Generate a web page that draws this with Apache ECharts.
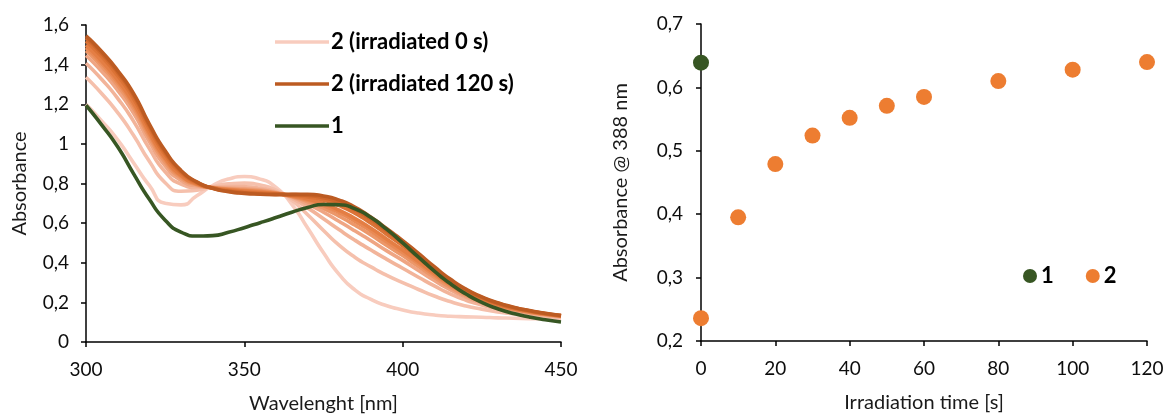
<!DOCTYPE html>
<html>
<head>
<meta charset="utf-8">
<script src="https://cdn.jsdelivr.net/npm/echarts@6/dist/echarts.min.js"></script>
<style>
html,body{margin:0;padding:0;background:#fff;}
#c{width:1167px;height:414px;}
</style>
</head>
<body>
<div id="c"></div>
<script>
// ---------- DATA ----------
const wavelengths = [300,305,310,315,320,325,330,335,340,345,350,355,360,365,370,375,380,385,390,395,400,405,410,415,420,425,430,435,440,445,450];

const spec2_0s   = [1.200,1.115,1.020,0.905,0.790,0.700,0.692,0.738,0.790,0.823,0.835,0.822,0.780,0.695,0.575,0.450,0.340,0.262,0.215,0.183,0.162,0.146,0.136,0.130,0.127,0.125,0.122,0.120,0.118,0.116,0.115];
const spec2_10s  = [1.336,1.253,1.158,1.043,0.912,0.804,0.761,0.766,0.784,0.798,0.802,0.792,0.766,0.715,0.642,0.563,0.488,0.427,0.379,0.336,0.300,0.265,0.232,0.204,0.182,0.166,0.152,0.142,0.134,0.127,0.122];
const spec2_20s  = [1.407,1.325,1.230,1.115,0.976,0.859,0.797,0.780,0.782,0.785,0.784,0.776,0.758,0.725,0.677,0.622,0.566,0.513,0.464,0.417,0.372,0.327,0.283,0.243,0.211,0.187,0.168,0.154,0.143,0.133,0.126];
const spec2_30s  = [1.446,1.365,1.270,1.155,1.011,0.889,0.816,0.788,0.780,0.777,0.774,0.768,0.754,0.731,0.696,0.655,0.608,0.560,0.511,0.460,0.412,0.361,0.310,0.264,0.227,0.198,0.176,0.160,0.147,0.137,0.129];
const spec2_40s  = [1.470,1.389,1.294,1.179,1.032,0.907,0.828,0.793,0.779,0.773,0.769,0.763,0.752,0.734,0.708,0.674,0.634,0.589,0.540,0.487,0.436,0.381,0.327,0.277,0.236,0.206,0.181,0.164,0.150,0.139,0.130];
const spec2_50s  = [1.486,1.405,1.310,1.195,1.047,0.920,0.836,0.796,0.778,0.770,0.765,0.759,0.750,0.736,0.716,0.688,0.652,0.609,0.559,0.505,0.452,0.396,0.338,0.286,0.243,0.210,0.185,0.166,0.152,0.140,0.131];
const spec2_60s  = [1.498,1.417,1.322,1.207,1.058,0.929,0.842,0.798,0.778,0.768,0.762,0.756,0.749,0.738,0.722,0.698,0.665,0.623,0.574,0.519,0.464,0.406,0.347,0.292,0.248,0.214,0.188,0.168,0.153,0.141,0.131];
const spec2_80s  = [1.519,1.439,1.344,1.229,1.077,0.945,0.853,0.803,0.777,0.764,0.756,0.752,0.747,0.741,0.732,0.716,0.688,0.649,0.599,0.543,0.486,0.425,0.362,0.304,0.257,0.220,0.192,0.172,0.156,0.143,0.133];
const spec2_100s = [1.535,1.455,1.360,1.245,1.091,0.957,0.861,0.806,0.776,0.761,0.753,0.748,0.745,0.744,0.740,0.728,0.705,0.667,0.618,0.560,0.502,0.438,0.373,0.312,0.263,0.225,0.196,0.174,0.158,0.144,0.133];
const spec2_120s = [1.545,1.465,1.370,1.255,1.100,0.965,0.866,0.808,0.776,0.759,0.750,0.746,0.744,0.745,0.745,0.737,0.716,0.680,0.630,0.572,0.512,0.447,0.380,0.318,0.267,0.228,0.198,0.176,0.159,0.145,0.134];
const spec1      = [1.195,1.095,0.985,0.850,0.720,0.615,0.555,0.535,0.537,0.554,0.577,0.602,0.628,0.655,0.679,0.694,0.693,0.672,0.628,0.568,0.500,0.428,0.358,0.295,0.242,0.200,0.168,0.144,0.126,0.112,0.101];

const spectraLabels = ['2 (irradiated 0 s)','2 (irradiated 10 s)','2 (irradiated 20 s)','2 (irradiated 30 s)','2 (irradiated 40 s)','2 (irradiated 50 s)','2 (irradiated 60 s)','2 (irradiated 80 s)','2 (irradiated 100 s)','2 (irradiated 120 s)'];
const spectra2 = [spec2_0s,spec2_10s,spec2_20s,spec2_30s,spec2_40s,spec2_50s,spec2_60s,spec2_80s,spec2_100s,spec2_120s];

const irradiationTimes = [0,10,20,30,40,50,60,80,100,120];
const abs388_2 = [0.236,0.395,0.479,0.524,0.552,0.571,0.585,0.610,0.628,0.640];
const abs388_1_time = [0];
const abs388_1 = [0.639];

const leftYTicks = {min:0, max:1.6, interval:0.2};
const leftXTicks = {min:300, max:450, interval:50};
const rightYTicks = {min:0.2, max:0.7, interval:0.1};
const rightXTicks = {min:0, max:120, interval:20};

// ---------- STYLE ----------
const spectraColors = ['#F8CCBE','#F5C0AC','#F2B49A','#EFA583','#EC9769','#E98A55','#E47E44','#DB7336','#CE672B','#BC5B22'];
const green = '#375623';
const orange = '#ED7D31';
const FONT = 'Lato';
const comma = v => String(Math.round(v*10)/10).replace('.', ',');

const axisCommon = {
  axisLine:{show:true, lineStyle:{color:'#000', width:1.5}},
  axisTick:{show:true, inside:false, length:5, lineStyle:{color:'#000', width:1.5}},
  splitLine:{show:false},
  nameTextStyle:{fontFamily:FONT, fontSize:20, color:'#1a1a1a'},
};
const labelStyle = {fontFamily:FONT, fontSize:19, color:'#0d0d0d'};

const series = [];
spectra2.forEach((arr, i) => {
  series.push({
    type:'line', name: spectraLabels[i], xAxisIndex:0, yAxisIndex:0,
    data: wavelengths.map((w,k)=>[w, arr[k]]),
    smooth:0.6, showSymbol:false, symbol:'none',
    lineStyle:{color:spectraColors[i], width:3.6},
    itemStyle:{color:spectraColors[i]},
    z: 2+i, silent:true
  });
});
series.push({
  type:'line', name:'1', xAxisIndex:0, yAxisIndex:0,
  data: wavelengths.map((w,k)=>[w, spec1[k]]),
  smooth:0.6, showSymbol:false, symbol:'none',
  lineStyle:{color:green, width:3.6}, itemStyle:{color:green}, z:20, silent:true
});
series.push({
  type:'scatter', name:'1', xAxisIndex:1, yAxisIndex:1, clip:false,
  data: abs388_1_time.map((t,k)=>[t, abs388_1[k]]),
  symbolSize:16, itemStyle:{color:green, opacity:1}, z:5
});
series.push({
  type:'scatter', name:'2', xAxisIndex:1, yAxisIndex:1, clip:false,
  data: irradiationTimes.map((t,k)=>[t, abs388_2[k]]),
  symbolSize:16, itemStyle:{color:orange, opacity:1}, z:5
});

const chart = echarts.init(document.getElementById('c'), null, {renderer:'canvas'});
chart.setOption({
  animation:false,
  backgroundColor:'#fff',
  grid:[
    {left:86, right:606, top:25, bottom:72, containLabel:false, outerBoundsMode:'none'},
    {left:701, right:20, top:24, bottom:73, containLabel:false, outerBoundsMode:'none'}
  ],
  legend:[
    {
      data:[
        {name:'2 (irradiated 0 s)', icon:'rect', itemStyle:{color:spectraColors[0]}},
        {name:'2 (irradiated 120 s)', icon:'rect', itemStyle:{color:spectraColors[9]}},
        {name:'1', icon:'rect', itemStyle:{color:green}}
      ],
      orient:'vertical', left:275, top:30, padding:0, itemWidth:54, itemHeight:3.5, itemGap:18,
      textStyle:{fontFamily:FONT, fontSize:22, fontWeight:'bold', color:'#000', lineHeight:24, padding:[0,0,0,-3]},
      selectedMode:false
    },
    {
      data:[
        {name:'1', icon:'circle', itemStyle:{color:green}},
        {name:'2', icon:'circle', itemStyle:{color:orange}}
      ],
      orient:'horizontal', left:1023, top:264, padding:0, itemWidth:14, itemHeight:14, itemGap:32,
      textStyle:{fontFamily:FONT, fontSize:22, fontWeight:'bold', color:'#000', lineHeight:24, padding:[0,0,0,-1]},
      selectedMode:false
    }
  ],
  xAxis:[
    Object.assign({}, axisCommon, {
      type:'value', gridIndex:0, min:leftXTicks.min, max:leftXTicks.max, interval:leftXTicks.interval,
      name:'Wavelenght [nm]', nameLocation:'middle', nameGap:52,
      axisLabel:Object.assign({margin:18}, labelStyle)
    }),
    Object.assign({}, axisCommon, {
      type:'value', gridIndex:1, min:rightXTicks.min, max:rightXTicks.max, interval:rightXTicks.interval,
      name:'Irradiation time [s]', nameLocation:'middle', nameGap:52,
      axisLabel:Object.assign({margin:18}, labelStyle)
    })
  ],
  yAxis:[
    Object.assign({}, axisCommon, {
      type:'value', gridIndex:0, min:leftYTicks.min, max:leftYTicks.max, interval:leftYTicks.interval,
      name:'Absorbance', nameLocation:'middle', nameGap:56,
      axisLabel:Object.assign({margin:17, formatter:comma}, labelStyle)
    }),
    Object.assign({}, axisCommon, {
      type:'value', gridIndex:1, min:rightYTicks.min, max:rightYTicks.max, interval:rightYTicks.interval,
      name:'Absorbance @ 388 nm', nameLocation:'middle', nameGap:70,
      axisLabel:Object.assign({margin:18, formatter:comma}, labelStyle)
    })
  ],
  series: series
});
</script>
</body>
</html>
